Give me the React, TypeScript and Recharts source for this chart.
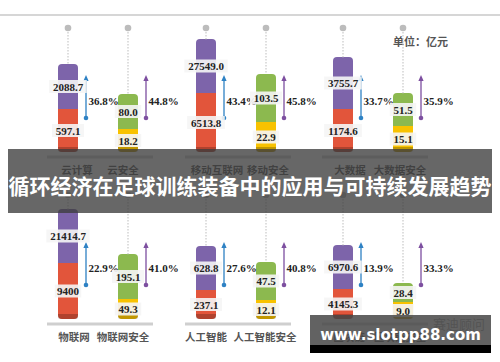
import React from "react";
import { BarChart, Bar, XAxis, YAxis, LabelList, Rectangle } from "recharts";

// categories, two panels of three pairs
const topCats = ["云计算", "云安全", "移动互联网", "移动安全", "大数据", "大数据安全"];
const bottomCats = ["物联网", "物联网安全", "人工智能", "人工智能安全", "区块链", "区块链安全"];

// printed values (亿元)
const topUpperText = ["2088.7", "80.0", "27549.0", "103.5", "3755.7", "51.5"];
const topLowerText = ["597.1", "18.2", "6513.8", "22.9", "1174.6", "15.1"];
const bottomUpperText = ["21414.7", "195.1", "628.8", "47.5", "6970.6", "28.4"];
const bottomLowerText = ["9400", "49.3", "237.1", "12.1", "4145.3", "9.0"];

// growth rates (%)
const topGrowth = [36.8, 44.8, 43.4, 45.8, 33.7, 35.9];
const bottomGrowth = [22.9, 41.0, 27.6, 40.8, 13.9, 33.3];

// drawn segment lengths (the source is not to scale)
const topUpperLen = [45, 35, 54, 48, 52, 33];
const topLowerLen = [43, 23, 59, 30, 43, 26];
const bottomUpperLen = [54, 45, 44, 38, 44, 19];
const bottomLowerLen = [56, 20, 29, 19, 30, 17];

const DOT_LEVEL = 124;
const MAIN = { upper: "#7D64AA", lower: "#E2553B", arrow: "#2E82C4" };
const SAFE = { upper: "#8CB94F", lower: "#F8C200", arrow: "#7D4FA0" };
const serif = "'Liberation Serif', 'DejaVu Serif', serif";
const sans = "'Noto Sans CJK SC', 'Noto Sans', sans-serif";

function buildRows(cats, lowerLen, upperLen, lowerText, upperText, growth) {
  return cats.map((name, i) => ({
    name,
    lower: lowerLen[i],
    upper: upperLen[i],
    stem: DOT_LEVEL - lowerLen[i] - upperLen[i],
    lowerText: lowerText[i],
    upperText: upperText[i],
    growth: growth[i],
  }));
}

const topRows = buildRows(topCats, topLowerLen, topUpperLen, topLowerText, topUpperText, topGrowth);
const bottomRows = buildRows(bottomCats, bottomLowerLen, bottomUpperLen, bottomLowerText, bottomUpperText, bottomGrowth);

const isSafe = (p) => String(p?.payload?.name ?? "").endsWith("安全");

const LowerShape = (p) => {
  const safe = isSafe(p);
  const c = safe ? SAFE : MAIN;
  // grey base rule under each pair: main bar reaches right, security bar left
  const ruleX = safe ? p.x - 20 : p.x - 11;
  const ruleW = safe ? p.width + 35 : p.width + 31;
  return (
    <g>
      <rect x={ruleX} y={p.y + p.height + 3.5} width={ruleW} height={3} fill="#cfcfcf" />
      <Rectangle x={p.x} y={p.y} width={p.width} height={p.height} radius={[0, 0, 4, 4]} fill={c.lower} />
      <Rectangle x={p.x} y={p.y + p.height - 5} width={p.width} height={5} radius={[0, 0, 4, 4]} fill="#000" fillOpacity={0.22} />
    </g>
  );
};

const UpperShape = (p) => {
  const c = isSafe(p) ? SAFE : MAIN;
  return <Rectangle x={p.x} y={p.y} width={p.width} height={p.height} radius={[4, 4, 0, 0]} fill={c.upper} />;
};

const StemShape = (p) => {
  const c = isSafe(p) ? SAFE : MAIN;
  const cx = p.x + p.width / 2;
  const ax = cx + 18;
  const top = p.y;
  const dots = [];
  for (let d = 4; d < p.height; d += 3) dots.push(d);
  return (
    <g>
      {dots.map((d) => (
        <rect key={d} x={cx - 0.5} y={top + d} width={1} height={1.5} fill="#bdbdbd" />
      ))}
      <rect x={cx - 3.3} y={top - 3.3} width={6.6} height={6.6} rx={3.3} ry={3.3} fill="#bcbcbc" />
      <rect x={ax - 0.65} y={top + 51} width={1.3} height={39} fill={c.arrow} />
      <path d={`M${ax},${top + 47} L${ax - 2.6},${top + 53} L${ax + 2.6},${top + 53} Z`} fill={c.arrow} />
      <rect x={ax - 2.3} y={top + 87.7} width={4.6} height={4.6} rx={2.3} ry={2.3} fill={c.arrow} />
      <text x={ax + 2.5} y={top + 73} dominantBaseline="central" fontSize={11} fontWeight="bold" fontFamily={serif} fill="#222">
        {`${p.payload.growth.toFixed(1)}%`}
      </text>
    </g>
  );
};

const ValueLabel = (p) => {
  const cx = p.x + p.width / 2;
  const cy = p.y + p.height / 2;
  const w = String(p.value).length * 5.6 + 4;
  return (
    <g>
      <rect x={cx - w / 2} y={cy - 6.5} width={w} height={13} fill="#f5f5f5" fillOpacity={0.9} />
      <text x={cx} y={cy} textAnchor="middle" dominantBaseline="central" fontSize={11} fontWeight="bold" fontFamily={serif} fill="#222">
        {p.value}
      </text>
    </g>
  );
};

const CatTick = (p) => {
  const dx = (p.offsets ?? [0, 0])[p.index] ?? 0;
  return (
    <text x={p.x + dx} y={p.y + 4} textAnchor="middle" dominantBaseline="central" fontSize={10.5} fontWeight="bold" fontFamily={sans} fill="#555">
      {p.payload.value}
    </text>
  );
};

function Pair({ rows, left, top, offsets }) {
  return (
    <div style={{ position: "absolute", left, top }}>
      <BarChart width={175} height={158} data={rows} margin={{ top: 5, right: 45, bottom: 0, left: 10 }} barSize={20}>
        <XAxis dataKey="name" interval={0} tickLine={false} axisLine={false} tick={<CatTick offsets={offsets} />} height={24} />
        <YAxis hide domain={[-5, DOT_LEVEL]} />
        <Bar dataKey="lower" stackId="a" shape={<LowerShape />} isAnimationActive={false}>
          <LabelList dataKey="lowerText" content={<ValueLabel />} />
        </Bar>
        <Bar dataKey="upper" stackId="a" shape={<UpperShape />} isAnimationActive={false}>
          <LabelList dataKey="upperText" content={<ValueLabel />} />
        </Bar>
        <Bar dataKey="stem" stackId="a" shape={<StemShape />} isAnimationActive={false} />
      </BarChart>
    </div>
  );
}

const topOffsets = [[9, -5], [11, 2], [7, -3]];
const bottomOffsets = [[6, -5], [0, -1], [6, -3]];

export default function App() {
  const groups = [0, 1, 2];
  return (
    <div style={{ position: "fixed", left: 0, top: 0, width: 500, height: 362, background: "#fff", overflow: "hidden", fontFamily: sans }}>
      <div style={{ position: "absolute", left: 0, top: 14, width: 500, height: 2, background: "#d6d6d6" }} />
      <div style={{ position: "absolute", left: 393, top: 33, fontSize: 11, fontWeight: "bold", color: "#555", lineHeight: "16px" }}>单位：亿元</div>
      {groups.map((g) => (
        <Pair key={`t${g}`} rows={topRows.slice(g * 2, g * 2 + 2)} left={28 + g * 137.5} top={23} offsets={topOffsets[g]} />
      ))}
      {groups.map((g) => (
        <Pair key={`b${g}`} rows={bottomRows.slice(g * 2, g * 2 + 2)} left={28 + g * 137.5} top={190} offsets={bottomOffsets[g]} />
      ))}
      <div style={{ position: "absolute", left: 433, top: 316, fontSize: 13, color: "#999", lineHeight: "16px" }}>赛迪顾问</div>
      <div
        style={{
          position: "absolute", left: 8, top: 149, width: 484, height: 64, background: "rgba(60,60,60,0.78)",
          color: "#fff", fontSize: 21, fontWeight: "bold", lineHeight: "64px", textAlign: "center", whiteSpace: "nowrap",
          paddingTop: 4, boxSizing: "border-box",
        }}
      >
        循环经济在足球训练装备中的应用与可持续发展趋势
      </div>
      <div style={{ position: "absolute", left: 310, top: 315, width: 181, height: 30, background: "rgba(70,70,70,0.85)" }} />
      <div style={{ position: "absolute", left: 310, top: 345, width: 181, height: 8, background: "#000" }} />
      <div
        style={{
          position: "absolute", left: 310, top: 326, width: 181, textAlign: "center", color: "#fff",
          fontFamily: "'DejaVu Sans', sans-serif", fontWeight: "bold", fontSize: 15, lineHeight: "18px",
        }}
      >
        www.slotpp88.com
      </div>
    </div>
  );
}
